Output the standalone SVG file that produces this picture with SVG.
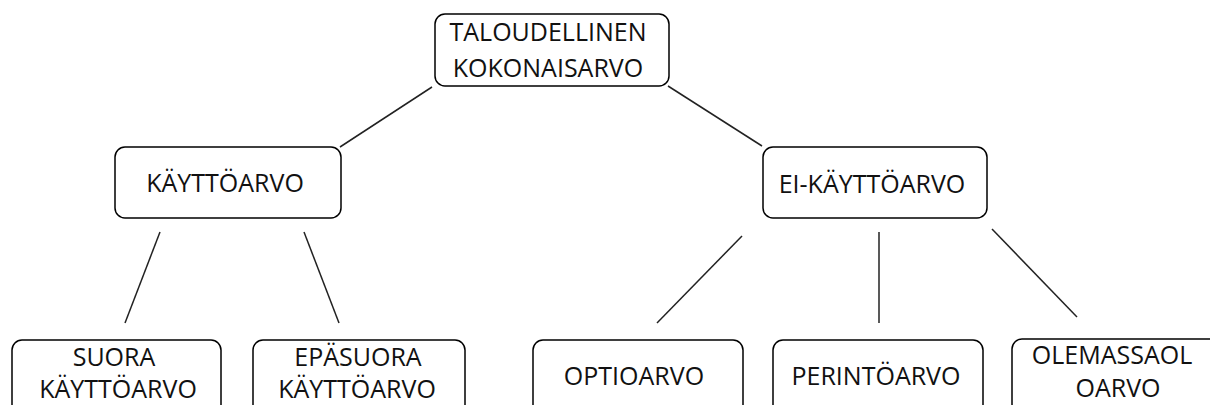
<svg xmlns="http://www.w3.org/2000/svg" width="1210" height="405" viewBox="0 0 1210 405">
<style>
.box{fill:#fff;stroke:#000;stroke-width:1.5}
.lbl{font-family:"Open Sans","Liberation Sans",sans-serif;font-size:25px;fill:#111;text-anchor:middle}
.edge{stroke:#222;stroke-width:1.5;fill:none}
</style>
<rect width="1210" height="405" fill="#fff"/>
<g id="connectors">
<line class="edge" x1="432" y1="87" x2="340" y2="147"/>
<line class="edge" x1="668" y1="86" x2="762" y2="146"/>
<line class="edge" x1="160" y1="232" x2="125" y2="323"/>
<line class="edge" x1="304" y1="232" x2="339" y2="323"/>
<line class="edge" x1="742" y1="236" x2="657" y2="323"/>
<line class="edge" x1="879" y1="232" x2="879" y2="323"/>
<line class="edge" x1="992" y1="229" x2="1077" y2="317"/>
</g>
<g id="n-taloudellinen">
<rect class="box" x="435" y="14" width="234" height="72" rx="10"/>
<text class="lbl" x="548" y="41">TALOUDELLINEN</text>
<text class="lbl" x="548" y="77">KOKONAISARVO</text>
</g>
<g id="n-kayttoarvo">
<rect class="box" x="115" y="147" width="226" height="71" rx="10"/>
<text class="lbl" x="225" y="192">KÄYTTÖARVO</text>
</g>
<g id="n-ei-kayttoarvo">
<rect class="box" x="763" y="147" width="224" height="71" rx="10"/>
<text class="lbl" x="872" y="193">EI-KÄYTTÖARVO</text>
</g>
<g id="n-suora">
<rect class="box" x="12" y="340" width="209" height="75" rx="10"/>
<text class="lbl" x="114" y="366">SUORA</text>
<text class="lbl" x="118" y="398">KÄYTTÖARVO</text>
</g>
<g id="n-epasuora">
<rect class="box" x="253" y="340" width="212" height="75" rx="10"/>
<text class="lbl" x="358" y="366">EPÄSUORA</text>
<text class="lbl" x="357" y="398">KÄYTTÖARVO</text>
</g>
<g id="n-optioarvo">
<rect class="box" x="533" y="340" width="210" height="75" rx="10"/>
<text class="lbl" x="634" y="385">OPTIOARVO</text>
</g>
<g id="n-perintoarvo">
<rect class="box" x="773" y="340" width="210" height="75" rx="10"/>
<text class="lbl" x="876" y="385">PERINTÖARVO</text>
</g>
<g id="n-olemassaolo">
<rect class="box" x="1012" y="339" width="210" height="75" rx="10"/>
<text class="lbl" x="1112" y="364">OLEMASSAOL</text>
<text class="lbl" x="1118" y="397">OARVO</text>
</g>
</svg>
